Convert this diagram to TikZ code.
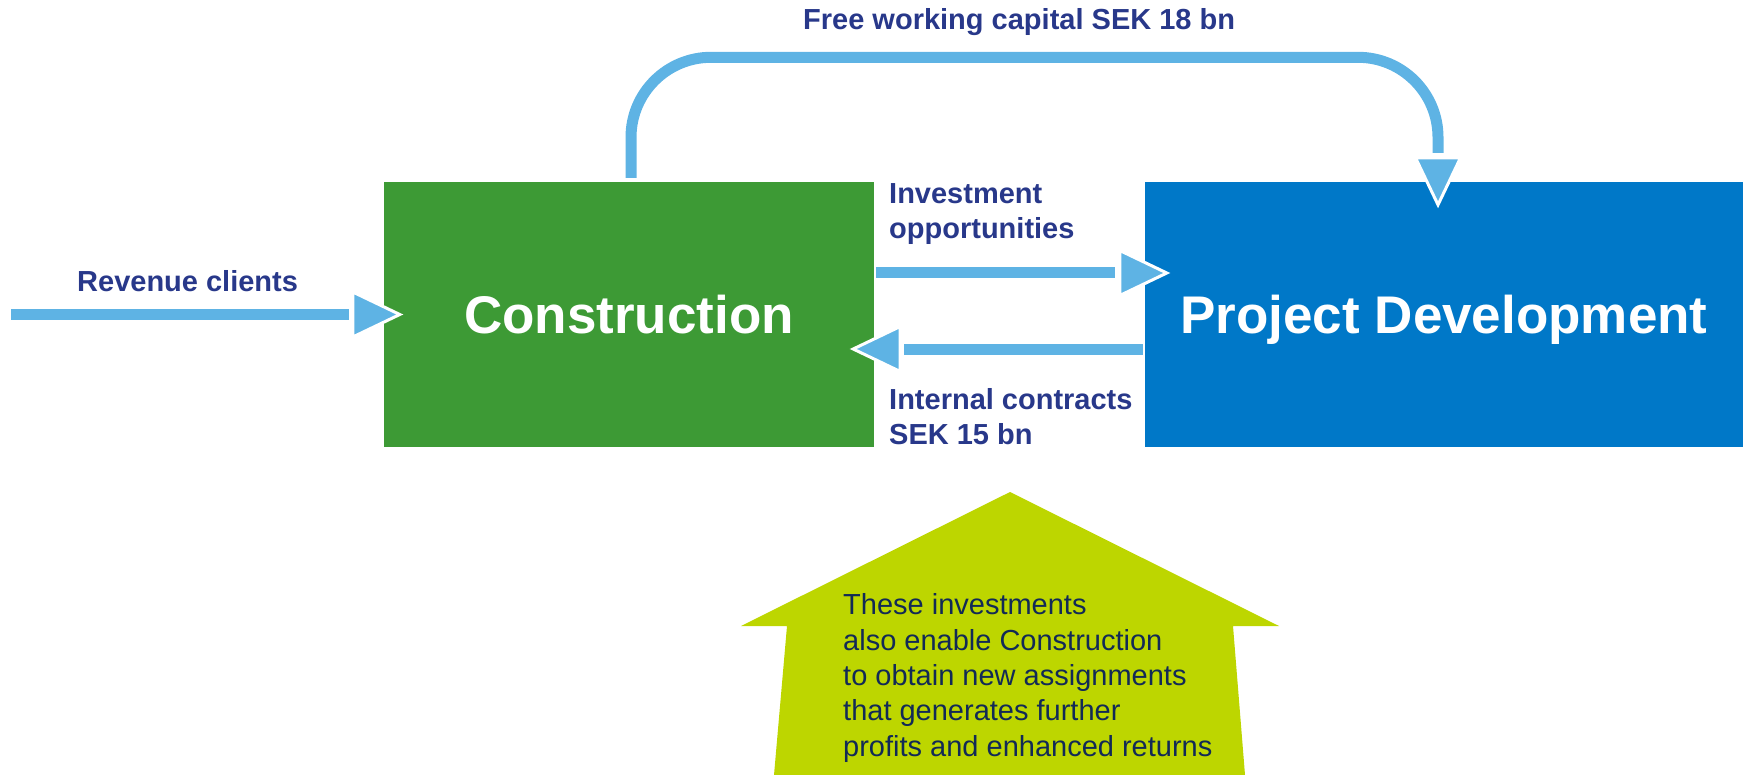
\documentclass[tikz,border=0pt]{standalone}
\usepackage{fontspec}
\setmainfont{Liberation Sans}
\usetikzlibrary{calc}
\definecolor{lblue}{RGB}{94,179,228}
\definecolor{cgreen}{RGB}{61,154,53}
\definecolor{pblue}{RGB}{0,120,200}
\definecolor{lime}{RGB}{189,214,0}
\definecolor{navy}{RGB}{40,56,138}
\definecolor{dnavy}{RGB}{18,42,86}
\begin{document}
\begin{tikzpicture}[x=1pt,y=-1pt,
  box/.style={draw=none,minimum height=265pt,inner sep=0pt,text=white,
    text height=38pt,text depth=0pt,font=\fontsize{53}{60}\selectfont\bfseries},
  conn/.style={draw=lblue,line width=11pt},
  lbl/.style={text=navy,font=\fontsize{29}{35}\selectfont\bfseries,inner sep=0pt,align=left},
  notetext/.style={text=dnavy,font=\fontsize{29}{35.3}\selectfont,inner sep=0pt,align=left},
  arrhead/.pic={\path[fill=lblue,draw=white,line width=3pt,line join=miter]
    (0,0) -- (-47,-22.5) -- (-47,22.5) -- cycle;}
]
\useasboundingbox (0,0) rectangle (1744,775);

% boxes
\node[box,fill=cgreen,minimum width=490pt] (cons) at (629,314.5) {Construction};
\node[box,fill=pblue,minimum width=598pt] (pd) at (1444,314.5) {Project Development};

% up arrow (house)
\fill[lime] (1010,492) -- (1279,626) -- (1233,626) -- (1245,775) -- (774,775)
  -- (787,626) -- (741,626) -- cycle;
\node[notetext,anchor=base west] (note) at (843,756)
  {These investments\\also enable Construction\\to obtain new assignments\\that generates further\\profits and enhanced returns};

% labels
\node[lbl,anchor=base west] (rev) at (77,292) {Revenue clients};
\node[lbl,anchor=base west] (inv) at (889,239) {Investment\\opportunities};
\node[lbl,anchor=base west] (ic) at (889,444) {Internal contracts\\SEK 15 bn};
\node[lbl,anchor=base west] (fwc) at (803,30) {Free working capital SEK 18 bn};

% revenue arrow
\coordinate (revstart) at (11,314.5);
\draw[conn] (revstart) -- ($(cons.west)+(-35,0)$);
\pic at ($(cons.west)+(16,0)$) {arrhead};

% investment opportunities
\draw[conn] ($(cons.east)+(2,-41.5)$) -- ($(pd.west)+(-30,-41.5)$);
\pic at ($(pd.west)+(22,-41.5)$) {arrhead};

% internal contracts
\draw[conn] ($(pd.west)+(-2,34.5)$) -- ($(cons.east)+(30,34.5)$);
\pic[rotate=180] at ($(cons.east)+(-21,34.5)$) {arrhead};

% free working capital
\draw[conn,rounded corners=80pt] ($(cons.north)+(2,-4)$) |- ($(pd.north)+(-6,-124.5)$)
  -- ($(pd.north)+(-6,-29)$);
\pic[rotate=-90] at ($(pd.north)+(-6,23)$) {arrhead};
\end{tikzpicture}
\end{document}
